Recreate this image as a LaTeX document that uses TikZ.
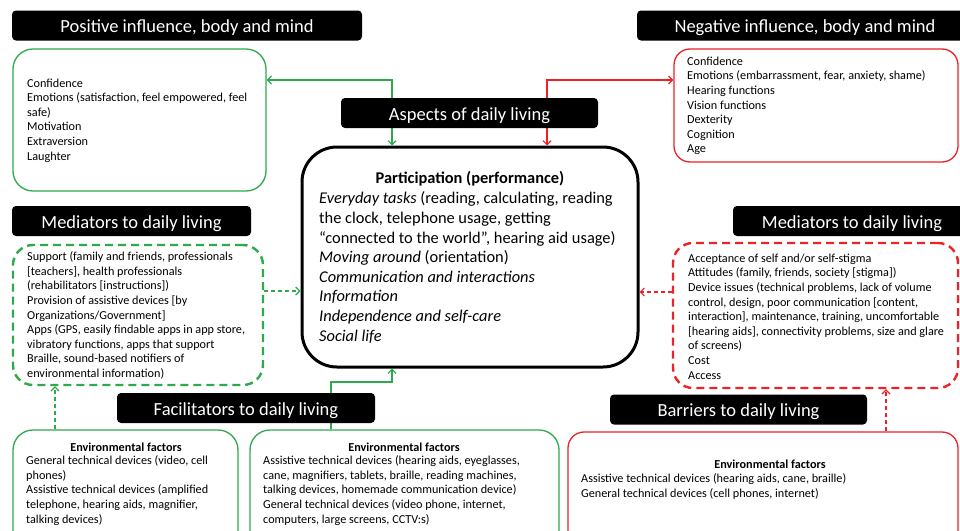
\documentclass[tikz,border=0pt]{standalone}
\usepackage{fontspec}
\setmainfont{Carlito}
\usetikzlibrary{arrows.meta}
\definecolor{grn}{RGB}{45,170,75}
\definecolor{rd}{RGB}{235,35,40}
\begin{document}
\begin{tikzpicture}[x=1pt,y=-1pt,
  >={Straight Barb[length=4pt,width=8pt]},
  hdr/.style={fill=black,rounded corners=4pt,text=white,font=\fontsize{18.5}{22}\selectfont,inner sep=0,minimum height=30pt,text height=14pt,text depth=0pt},
  gbox/.style={draw=grn,line width=1.3pt,rounded corners=20pt,inner sep=0},
  rbox/.style={draw=rd,line width=1.3pt,rounded corners=16pt,inner sep=0},
  gdbox/.style={draw=grn,line width=2.4pt,dash pattern=on 8pt off 5pt,rounded corners=20pt,inner sep=0},
  rdbox/.style={draw=rd,line width=2.4pt,dash pattern=on 8pt off 5pt,rounded corners=20pt,inner sep=0},
  cbox/.style={draw=black,line width=3pt,rounded corners=35pt,inner sep=0},
  txt/.style={anchor=west,align=left,inner sep=0,font=\fontsize{12.2}{14.6}\selectfont},
  ttl/.style={inner sep=0,font=\fontsize{12.2}{14.6}\selectfont\bfseries},
  ctxt/.style={anchor=west,align=left,inner sep=0,font=\fontsize{16.4}{19.6}\selectfont},
  garr/.style={draw=grn,line width=1.2pt},
  rarr/.style={draw=rd,line width=1.2pt},
  gdarr/.style={draw=grn,line width=1.2pt,dash pattern=on 4pt off 3pt},
  rdarr/.style={draw=rd,line width=1.2pt,dash pattern=on 4pt off 3pt}
]
\useasboundingbox (0,0) rectangle (960,530);
\clip (0,0) rectangle (960,530);
\fill[white] (0,0) rectangle (960,530);

% boxes
\node[gbox,minimum width=253pt,minimum height=142pt] (pos) at (139.5,120) {};
\node[rbox,minimum width=284pt,minimum height=113pt] (neg) at (816,105.5) {};
\node[gdbox,minimum width=250pt,minimum height=140pt] (lmed) at (138,315) {};
\node[rdbox,minimum width=285pt,minimum height=145pt] (rmed) at (815.5,315.5) {};
\node[cbox,minimum width=336pt,minimum height=220pt] (cen) at (470,257) {};
\node[gbox,minimum width=225pt,minimum height=130pt] (lenv) at (125.5,495) {};
\node[gbox,minimum width=309pt,minimum height=130pt] (menv) at (404.5,495) {};
\node[rbox,minimum width=390pt,minimum height=128pt] (benv) at (763,496) {};

% connectors
\coordinate (g1) at (392,80);
\coordinate (r1) at (547,80);
\coordinate (gm) at (0,291);
\coordinate (rm) at (0,292);
\coordinate (gv) at (55,0);
\coordinate (rv) at (886,0);
\coordinate (fb1) at (331,382);
\coordinate (fb2) at (392,382);
\draw[garr,<->] (cen.north -| g1) -- (g1) -- (g1 -| pos.east);
\draw[rarr,<->] (cen.north -| r1) -- (r1) -- (r1 -| neg.west);
\draw[gdarr,->] (lmed.east |- gm) -- (cen.west |- gm);
\draw[rdarr,->] (rmed.west |- rm) -- (cen.east |- rm);
\draw[gdarr,->] (lenv.north -| gv) -- (lmed.south -| gv);
\draw[rdarr,->] (benv.north -| rv) -- (rmed.south -| rv);
\draw[garr,->] (menv.north -| fb1) -- (fb1) -- (fb2) -- (cen.south -| fb2);

% headers
\node[hdr,minimum width=350pt] (posH) at (187,25.5) {Positive influence, body and mind};
\node[hdr,minimum width=336pt] (negH) at (805,25.5) {Negative influence, body and mind};
\node[hdr,minimum width=257pt] (aspH) at (469.5,113) {Aspects of daily living};
\node[hdr,minimum width=239pt] (lmedH) at (131.5,221) {Mediators to daily living};
\node[hdr,minimum width=238pt] (rmedH) at (852,221) {Mediators to daily living};
\node[hdr,minimum width=258pt] (facH) at (246,408) {Facilitators to daily living};
\node[hdr,minimum width=257pt] (barH) at (738.5,409.5) {Barriers to daily living};

% texts
\node[txt] (posT) at (27,120.5) {Confidence\\Emotions (satisfaction, feel empowered, feel\\safe)\\Motivation\\Extraversion\\Laughter};
\node[txt] (negT) at (687,106) {Confidence\\Emotions (embarrassment, fear, anxiety, shame)\\Hearing functions\\Vision functions\\Dexterity\\Cognition\\Age};
\node[txt] (lmedT) at (27,315.5) {Support (family and friends, professionals\\{[}teachers], health professionals\\(rehabilitators [instructions])\\Provision of assistive devices [by\\Organizations/Government]\\Apps (GPS, easily findable apps in app store,\\vibratory functions, apps that support\\Braille, sound-based notifiers of\\environmental information)};
\node[txt] (rmedT) at (688,316.5) {Acceptance of self and/or self-stigma\\Attitudes (family, friends, society [stigma])\\Device issues (technical problems, lack of volume\\control, design, poor communication [content,\\interaction], maintenance, training, uncomfortable\\{[}hearing aids], connectivity problems, size and glare\\of screens)\\Cost\\Access};
\node[inner sep=0,font=\fontsize{16.4}{19.6}\selectfont\bfseries] (cenTT) at (470,179) {Participation (performance)};
\node[ctxt] (cenT) at (319,267.5) {\textit{Everyday tasks} (reading, calculating, reading\\the clock, telephone usage, getting\\“connected to the world”, hearing aid usage)\\\textit{Moving around} (orientation)\\\textit{Communication and interactions}\\\textit{Information}\\\textit{Independence and self-care}\\\textit{Social life}};
\node[ttl] (lenvTT) at (126,447) {Environmental factors};
\node[txt] (lenvT) at (26,490.5) {General technical devices (video, cell\\phones)\\Assistive technical devices (amplified\\telephone, hearing aids, magnifier,\\talking devices)};
\node[ttl] (menvTT) at (404,447) {Environmental factors};
\node[txt] (menvT) at (263,490.5) {Assistive technical devices (hearing aids, eyeglasses,\\cane, magnifiers, tablets, braille, reading machines,\\talking devices, homemade communication device)\\General technical devices (video phone, internet,\\computers, large screens, CCTV:s)};
\node[ttl] (benvTT) at (770,464) {Environmental factors};
\node[txt] (benvT) at (581,486.5) {Assistive technical devices (hearing aids, cane, braille)\\General technical devices (cell phones, internet)};
\end{tikzpicture}
\end{document}
